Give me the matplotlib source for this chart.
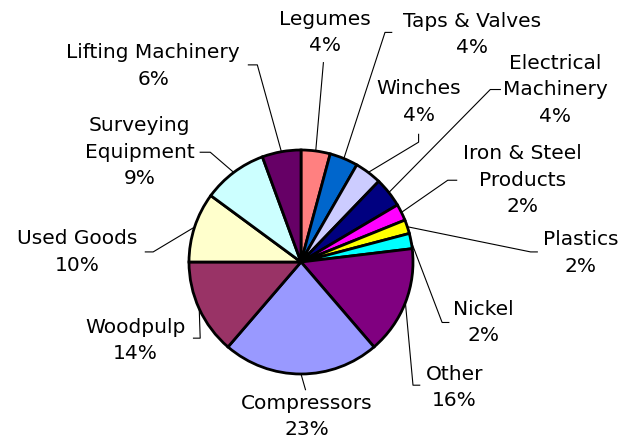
import matplotlib
matplotlib.use("Agg")
import matplotlib.pyplot as plt
import numpy as np

# slices, clockwise from 12 o'clock
categories = ["Legumes", "Taps & Valves", "Winches", "Electrical\nMachinery",
              "Iron & Steel\nProducts", "Plastics", "Nickel", "Other",
              "Compressors", "Woodpulp", "Used Goods", "Surveying\nEquipment",
              "Lifting Machinery"]
shares = [4.2, 4.1, 3.9, 4.3, 2.4, 2.0, 2.2, 15.6, 22.6, 13.7, 10.1, 9.3, 5.6]
colors = ["#FF8080", "#0066CC", "#CCCCFF", "#000080", "#FF00FF", "#FFFF00",
          "#00FFFF", "#800080", "#9999FF", "#993366", "#FFFFCC", "#CCFFFF",
          "#660066"]

# label layout (data units, pie radius = 1)
label_pos = [(0.21, 2.05), (1.53, 2.03), (1.05, 1.43), (2.27, 1.54),
             (1.98, 0.73), (2.50, 0.08), (1.63, -0.54), (1.37, -1.12),
             (0.05, -1.38), (-1.48, -0.70), (-2.00, 0.09), (-1.44, 0.98),
             (-1.32, 1.75)]
# leader line: bend point, then end point next to the label
leader_bend = [(0.20, 1.78), (0.75, 2.05), (1.05, 1.07), (1.69, 1.54),
               (1.31, 0.73), (2.05, 0.09), (1.26, -0.54), (1.00, -1.10),
               (0.04, -1.14), (-0.90, -0.68), (-1.32, 0.09), (-0.81, 0.98),
               (-0.39, 1.76)]
leader_end = [(0.20, 1.78), (0.81, 2.05), (1.05, 1.14), (1.78, 1.54),
              (1.39, 0.73), (2.11, 0.09), (1.32, -0.54), (1.06, -1.10),
              (0.04, -1.14), (-0.96, -0.68), (-1.39, 0.09), (-0.90, 0.98),
              (-0.47, 1.76)]

fig = plt.figure(figsize=(6.36, 4.45), dpi=100)
ax = fig.add_axes([0, 0, 1, 1])

wedges, _ = ax.pie(shares, colors=colors, startangle=90, counterclock=False,
                   radius=1, wedgeprops=dict(edgecolor="black", linewidth=2))

for w, name, share, pos, bend, end in zip(wedges, categories, shares,
                                          label_pos, leader_bend, leader_end):
    mid = np.deg2rad((w.theta1 + w.theta2) / 2)
    sx, sy = np.cos(mid), np.sin(mid)
    ax.plot([sx, bend[0], end[0]], [sy, bend[1], end[1]],
            color="black", lw=0.8, zorder=0)
    ax.text(pos[0], pos[1], f"{name}\n{share:.0f}%", ha="center", va="center",
            multialignment="center", fontsize=14.5, linespacing=1.5,
            family="DejaVu Sans")

ax.set_xlim((0 - 301) / 112, (636 - 301) / 112)
ax.set_ylim((262 - 445) / 112, (262 - 0) / 112)
ax.axis("off")

fig.savefig("out.png", dpi=100)
